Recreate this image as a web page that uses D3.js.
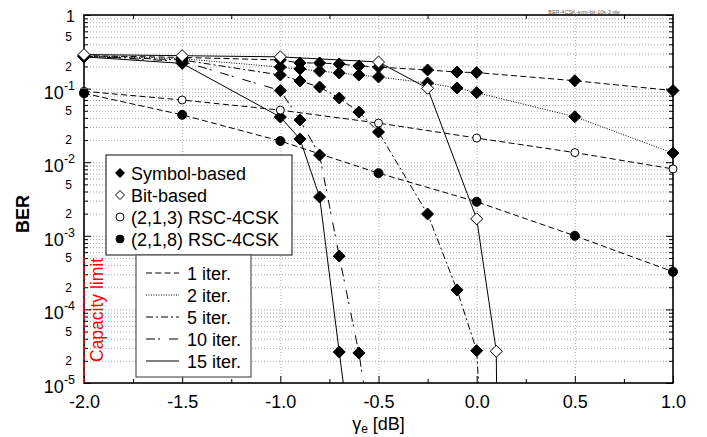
<!DOCTYPE html>
<html>
<head>
<meta charset="utf-8">
<script src="https://cdn.jsdelivr.net/npm/d3@7"></script>
<style>
  body { margin: 0; background: #fff; }
  svg { display: block; font-family: "Liberation Sans", Arial, sans-serif; }
</style>
</head>
<body>
<div id="chart"></div>
<script>
// ---- data (Eb/N0 in dB, BER) ----
const xSym = [-2, -1.5, -1, -0.9, -0.8, -0.7, -0.6, -0.5, -0.25, -0.1, 0, 0.5, 1];
const sym1 = [0.28, 0.265, 0.245, 0.223, 0.223, 0.216, 0.203, 0.196, 0.179, 0.168, 0.165, 0.128, 0.094];
const sym2 = [0.28, 0.255, 0.196, 0.185, 0.173, 0.163, 0.153, 0.144, 0.119, 0.102, 0.088, 0.0415, 0.0133];

const xSym5 = [-2, -1.5, -1, -0.9, -0.8, -0.7, -0.6, -0.5, -0.25, -0.1, 0, 0.1];
const sym5 = [0.275, 0.245, 0.153, 0.127, 0.105, 0.0745, 0.048, 0.0257, 0.00198, 1.84e-4, 2.75e-5, 1e-9];

const xSym10 = [-2, -1.5, -1, -0.9, -0.8, -0.7, -0.6, -0.5];
const sym10 = [0.275, 0.235, 0.094, 0.0374, 0.0125, 5.3e-4, 2.56e-5, 5e-7];

const xSym15 = [-2, -1.5, -1, -0.9, -0.8, -0.7, -0.65];
const sym15 = [0.27, 0.22, 0.0411, 0.0207, 0.00337, 2.64e-5, 2.5e-6];

const xBit15 = [-2, -1.5, -1, -0.5, -0.25, 0, 0.1, 0.104];
const bit15 = [0.29, 0.28, 0.27, 0.23, 0.101, 0.0017, 2.7e-5, 1e-6];

const xRsc = [-2, -1.5, -1, -0.5, 0, 0.5, 1];
const rsc213 = [0.092, 0.07, 0.051, 0.034, 0.0213, 0.0135, 0.0081];
const rsc218 = [0.0863, 0.044, 0.0194, 0.0071, 0.0029, 0.001, 3.25e-4];

const xTicks = [-2, -1.5, -1, -0.5, 0, 0.5, 1];
const decades = [0, -1, -2, -3, -4, -5];
const minorLabels = [5, 2];
const capacityX = -2.0;
const capacityTop = 5e-4;

const markerNames = ["Symbol-based", "Bit-based", "(2,1,3) RSC-4CSK", "(2,1,8) RSC-4CSK"];
const iterNames = ["1 iter.", "2 iter.", "5 iter.", "10 iter.", "15 iter."];

// ---- layout ----
const W = 707, H = 437;
const margin = {top: 15, right: 34, bottom: 54, left: 84};
const iw = W - margin.left - margin.right;
const ih = H - margin.top - margin.bottom;

const dashes = ["6,3.3", "1,1.5", "7,3,2,3", "9,3,2,9", null];

const svg = d3.select("#chart").append("svg")
  .attr("width", W).attr("height", H);

const g = svg.append("g")
  .attr("transform", "translate(" + margin.left + "," + margin.top + ")");

const x = d3.scaleLinear().domain([-2, 1]).range([0, iw]);
const y = d3.scaleLog().domain([1e-5, 1]).range([ih, 0]);

// all 1..9 x 10^d values
const yAll = [];
decades.slice(1).forEach(function(d) {
  for (let k = 1; k <= 9; k++) yAll.push(k * Math.pow(10, d));
});
yAll.push(1);

// grid
g.append("g")
  .call(d3.axisLeft(y).tickValues(yAll.filter(v => v > 1.001e-5 && v < 0.999)).tickSize(-iw).tickFormat(""))
  .call(s => s.select(".domain").remove())
  .selectAll("line").attr("stroke", "#a8a8a8").attr("stroke-dasharray", "1,2");

g.append("g")
  .attr("transform", "translate(0," + ih + ")")
  .call(d3.axisBottom(x).tickValues(xTicks.slice(1, -1)).tickSize(-ih).tickFormat(""))
  .call(s => s.select(".domain").remove())
  .selectAll("line").attr("stroke", "#b0b0b0").attr("stroke-dasharray", "1,2");

// curves
g.append("clipPath").attr("id", "clip")
  .append("rect").attr("width", iw).attr("height", ih);

const plot = g.append("g").attr("clip-path", "url(#clip)");
const marks = g.append("g");

const series = [
  {xs: xSym, ys: sym1, dash: dashes[0], mk: "dFill"},
  {xs: xSym, ys: sym2, dash: dashes[1], mk: "dFill"},
  {xs: xSym5, ys: sym5, dash: dashes[2], mk: "dFill"},
  {xs: xSym10, ys: sym10, dash: dashes[3], mk: "dFill"},
  {xs: xSym15, ys: sym15, dash: dashes[4], mk: "dFill"},
  {xs: xBit15, ys: bit15, dash: dashes[4], mk: "dOpen"},
  {xs: xRsc, ys: rsc213, dash: dashes[0], mk: "cOpen"},
  {xs: xRsc, ys: rsc218, dash: dashes[0], mk: "cFill"}
];

const line = d3.line().x(d => x(d[0])).y(d => y(d[1]));

series.forEach(function(s) {
  const pts = s.xs.map((v, i) => [v, s.ys[i]]);
  plot.append("path")
    .attr("d", line(pts))
    .attr("fill", "none")
    .attr("stroke", "#000")
    .attr("stroke-width", 1)
    .attr("stroke-dasharray", s.dash);
});

function diamond(r) {
  return "M0," + (-r) + "L" + r + ",0L0," + r + "L" + (-r) + ",0Z";
}

function drawMarker(sel, kind, big) {
  if (kind === "dFill" || kind === "dOpen") {
    sel.append("path")
      .attr("d", diamond(big ? 6 : 4.5))
      .attr("fill", kind === "dFill" ? "#000" : "#fff")
      .attr("stroke", "#000").attr("stroke-width", 1);
  } else {
    sel.append("circle")
      .attr("r", big ? (kind === "cFill" ? 4.5 : 4) : 4)
      .attr("fill", kind === "cFill" ? "#000" : "#fff")
      .attr("stroke", "#000").attr("stroke-width", 1);
  }
}

// markers (only points inside the y range); open diamonds on top
[0, 1, 2, 3, 4, 6, 7, 5].forEach(function(si) {
  const s = series[si];
  s.xs.forEach(function(v, i) {
    if (s.ys[i] < 1e-5) return;
    const m = marks.append("g")
      .attr("transform", "translate(" + x(v) + "," + y(s.ys[i]) + ")");
    drawMarker(m, s.mk, true);
  });
});

// axis ticks (inward)
const yMajor = decades.map(d => Math.pow(10, d));
const yMinor = yAll.filter(v => yMajor.every(u => Math.abs(u - v) / u > 1e-6));

g.append("g").call(d3.axisLeft(y).tickValues(yMinor).tickSize(-4).tickFormat(""))
  .call(s => s.select(".domain").remove());
g.append("g").call(d3.axisLeft(y).tickValues(yMajor).tickSize(-7).tickFormat(""))
  .call(s => s.select(".domain").remove());
g.append("g").attr("transform", "translate(" + iw + ",0)")
  .call(d3.axisRight(y).tickValues(yMinor).tickSize(-4).tickFormat(""))
  .call(s => s.select(".domain").remove());
g.append("g").attr("transform", "translate(" + iw + ",0)")
  .call(d3.axisRight(y).tickValues(yMajor).tickSize(-7).tickFormat(""))
  .call(s => s.select(".domain").remove());

const xMinor = d3.range(-1.75, 1, 0.5);
g.append("g").attr("transform", "translate(0," + ih + ")")
  .call(d3.axisBottom(x).tickValues(xMinor).tickSize(-4).tickFormat(""))
  .call(s => s.select(".domain").remove());
g.append("g")
  .call(d3.axisTop(x).tickValues(xMinor).tickSize(-4).tickFormat(""))
  .call(s => s.select(".domain").remove());

const xAxis = g.append("g").attr("transform", "translate(0," + ih + ")")
  .call(d3.axisBottom(x).tickValues(xTicks).tickSize(-7).tickFormat(d => d.toFixed(1)));
xAxis.select(".domain").remove();
xAxis.selectAll("text")
  .attr("y", 12)
  .attr("font-size", 18)
  .attr("font-family", "Liberation Sans, Arial, sans-serif")
  .attr("fill", "#000");

// frame
g.append("rect")
  .attr("width", iw).attr("height", ih)
  .attr("fill", "none").attr("stroke", "#000").attr("stroke-width", 1.6);

// keep markers above the frame
marks.raise();

// y tick labels
const yLab = g.append("g").attr("fill", "#000").attr("text-anchor", "end");
decades.forEach(function(d) {
  const v = Math.pow(10, d);
  if (d === 0) {
    yLab.append("text").attr("x", -9).attr("y", y(v) + 7)
      .attr("font-size", 16).text("1");
  } else {
    const t = yLab.append("text").attr("x", -9).attr("y", y(v) + 10);
    t.append("tspan").attr("font-size", 18).text("10");
    t.append("tspan").attr("font-size", 12.5).attr("dy", -9).text(String(d));
  }
  if (d > -5) {
    minorLabels.forEach(function(k) {
      yLab.append("text").attr("x", -12).attr("y", y(k * v / 10) + 4.3)
        .attr("font-size", 12).text(String(k));
    });
  }
});

// capacity limit
g.append("line")
  .attr("x1", x(capacityX)).attr("x2", x(capacityX))
  .attr("y1", y(capacityTop)).attr("y2", y(1e-5))
  .attr("stroke", "#ff0000").attr("stroke-width", 1.6)
  .attr("stroke-dasharray", "6,2");
g.append("text")
  .attr("transform", "translate(" + (x(capacityX) + 19) + "," + (ih - 21) + ") rotate(-90)")
  .attr("font-size", 17.5).attr("fill", "#ff0000")
  .text("Capacity limit");

// legend 1 (markers)
const leg1 = svg.append("g");
leg1.append("rect").attr("x", 106).attr("y", 155).attr("width", 186).attr("height", 100)
  .attr("fill", "#fff").attr("stroke", "#333").attr("stroke-width", 1.2);
const mkKinds = ["dFill", "dOpen", "cOpen", "cFill"];
markerNames.forEach(function(name, i) {
  const cy = 173 + i * 22;
  const m = leg1.append("g").attr("transform", "translate(120," + cy + ")");
  drawMarker(m, mkKinds[i], false);
  leg1.append("text").attr("x", 131).attr("y", cy + 6.5)
    .attr("font-size", 18).attr("fill", "#000").text(name);
});

// legend 2 (line styles)
const leg2 = svg.append("g");
leg2.append("rect").attr("x", 136).attr("y", 255).attr("width", 115).attr("height", 122)
  .attr("fill", "#fff").attr("stroke", "#555").attr("stroke-width", 1.2);
iterNames.forEach(function(name, i) {
  const cy = 273 + i * 22;
  leg2.append("line").attr("x1", 146).attr("x2", 179).attr("y1", cy).attr("y2", cy)
    .attr("stroke", "#000").attr("stroke-width", 1)
    .attr("stroke-dasharray", dashes[i]);
  leg2.append("text").attr("x", 187).attr("y", cy + 6.5)
    .attr("font-size", 18).attr("fill", "#000").text(name);
});

// axis titles
const xt = svg.append("text")
  .attr("x", margin.left + iw / 2).attr("y", 430)
  .attr("text-anchor", "middle").attr("font-size", 18).attr("fill", "#000");
xt.append("tspan").text("\u03b3");
xt.append("tspan").attr("font-size", 12).attr("dy", 3).text("e");
xt.append("tspan").attr("dy", -3).text(" [dB]");

svg.append("text")
  .attr("transform", "translate(29," + (margin.top + ih / 2 + 15) + ") rotate(-90)")
  .attr("text-anchor", "middle").attr("font-size", 18).attr("font-weight", "bold")
  .attr("fill", "#000").text("BER");

// file tag
svg.append("text")
  .attr("x", 584).attr("y", 14).attr("text-anchor", "middle")
  .attr("font-size", 5.5).attr("fill", "#555")
  .text("BER-4CSK-sym-bit-10k-3.gle");
</script>
</body>
</html>
